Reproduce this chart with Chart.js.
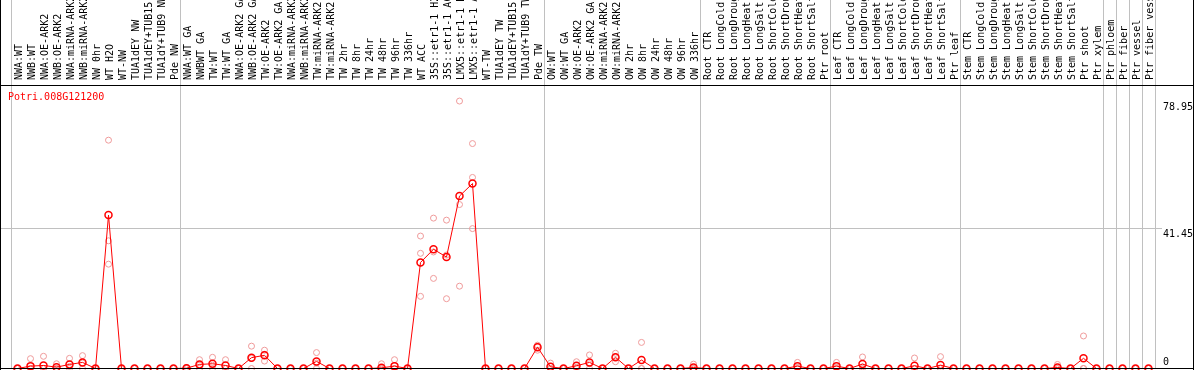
<!DOCTYPE html>
<html>
<head>
<meta charset="utf-8">
<script src="https://cdn.jsdelivr.net/npm/chart.js@4.4.0/dist/chart.umd.min.js"></script>
<style>
  html, body { margin: 0; padding: 0; background: #fff; }
  #wrap { position: relative; width: 1194px; height: 370px; }
  #chart { display: block; }
  #title { position: absolute; left: 8px; top: 92px; font: 10px 'DejaVu Sans Mono', monospace; line-height: 10px; color: #f00; }
</style>
</head>
<body>
<div id="wrap">
  <canvas id="chart" width="1194" height="370"></canvas>
  <div id="title">Potri.008G121200</div>
</div>
<script>
// sample groups (each group is separated by a vertical grey line)
const groupSizes = [13, 28, 12, 10, 10, 11, 1, 1, 1, 1];

const labels = [
  'NWA:WT', 'NWB:WT', 'NWA:OE-ARK2', 'NWB:OE-ARK2', 'NWA:miRNA-ARK2', 'NWB:miRNA-ARK2', 'NW 0hr', 'WT H2O', 'WT-NW',
  'TUA1dEY NW', 'TUA1dEY+TUB15 NW', 'TUA1dY+TUB9 NW', 'Pde NW',
  'NWA:WT GA', 'NWBWT GA', 'TW:WT', 'TW:WT GA', 'NWA:OE-ARK2 GA', 'NWB:OE-ARK2 GA', 'TW:OE-ARK2', 'TW:OE-ARK2 GA',
  'NWA:miRNA-ARK2 GA', 'NWB:miRNA-ARK2 GA', 'TW:miRNA-ARK2', 'TW:miRNA-ARK2', 'TW 2hr', 'TW 8hr', 'TW 24hr', 'TW 48hr',
  'TW 96hr', 'TW 336hr', 'WT ACC', '35S::etr1-1 H2O', '35S::etr1-1 ACC', 'LMX5::etr1-1 H2O', 'LMX5::etr1-1 ACC',
  'WT-TW', 'TUA1dEY TW', 'TUA1dEY+TUB15 TW', 'TUA1dY+TUB9 TW', 'Pde TW',
  'OW:WT', 'OW:WT GA', 'OW:OE-ARK2', 'OW:OE-ARK2 GA', 'OW:miRNA-ARK2', 'OW:miRNA-ARK2', 'OW 2hr', 'OW 8hr', 'OW 24hr',
  'OW 48hr', 'OW 96hr', 'OW 336hr',
  'Root CTR', 'Root LongCold', 'Root LongDrought', 'Root LongHeat', 'Root LongSalt', 'Root ShortCold', 'Root ShortDrought',
  'Root ShortHeat', 'Root ShortSalt', 'Ptr root',
  'Leaf CTR', 'Leaf LongCold', 'Leaf LongDrought', 'Leaf LongHeat', 'Leaf LongSalt', 'Leaf ShortCold', 'Leaf ShortDrought',
  'Leaf ShortHeat', 'Leaf ShortSalt', 'Ptr leaf',
  'Stem CTR', 'Stem LongCold', 'Stem LongDrought', 'Stem LongHeat', 'Stem LongSalt', 'Stem ShortCold', 'Stem ShortDrought',
  'Stem ShortHeat', 'Stem ShortSalt', 'Ptr shoot', 'Ptr xylem',
  'Ptr phloem', 'Ptr fiber', 'Ptr vessel', 'Ptr fiber vessel'
];

// mean expression per sample (red line)
const meanValues = [
  0, 0.7, 0.9, 0.4, 1.2, 1.8, 0, 45.3, 0, 0, 0, 0, 0,
  0.1, 1.2, 1.4, 0.9, 0, 3.2, 3.9, 0, 0, 0, 2.1, 0, 0, 0, 0, 0.2, 0.7, 0, 31.3, 35.2, 32.9, 50.9, 54.6, 0, 0, 0, 0, 6.3,
  0.5, 0, 0.8, 1.8, 0, 3.3, 0, 2.5, 0, 0, 0, 0.3,
  0, 0, 0, 0, 0, 0, 0, 0.7, 0, 0,
  0.7, 0, 1.3, 0, 0, 0, 0.8, 0, 1.0, 0,
  0, 0, 0, 0, 0, 0, 0, 0.3, 0, 3.0, 0,
  0, 0, 0, 0
];

// biological replicates (pink circles)
const rep1 = [
  0, 2.9, 3.6, 1.4, 3.0, 3.8, 0, 67.4, 0, 0, 0, 0, 0,
  0.3, 2.6, 3.3, 2.6, 0, 6.6, 5.4, 0, 0, 0, 4.7, 0, 0, 0, 0, 1.4, 2.6, 0, 39.1, 44.4, 43.8, 78.95, 66.4, 0, 0, 0, 0, 6.9,
  1.6, 0, 2.0, 4.0, 0, 4.5, 0, 7.7, 0, 0, 0, 1.3,
  0, 0, 0, 0, 0, 0, 0, 1.8, 0, 0,
  1.8, 0, 3.4, 0, 0, 0, 3.1, 0, 3.5, 0,
  0, 0, 0, 0, 0, 0, 0, 1.2, 0, 9.6, 0,
  0, 0, 0, 0
];
const rep2 = [
  0, 0, 0, 0, 0.6, 1.6, 0, 37.7, 0, 0, 0, 0, 0,
  0, 1.0, 1.0, 0, 0, 3.0, 4.2, 0, 0, 0, 1.6, 0, 0, 0, 0, 0, 0, 0, 34.0, 34.4, 33.5, 48.4, 56.4, 0, 0, 0, 0, 6.6,
  0, 0, 0.4, 1.4, 0, 3.4, 0, 0, 0, 0, 0, 0,
  0, 0, 0, 0, 0, 0, 0, 0.3, 0, 0,
  0.3, 0, 0.5, 0, 0, 0, 0, 0, 0, 0,
  0, 0, 0, 0, 0, 0, 0, 0, 0, 0, 0,
  0, 0, 0, 0
];
const rep3 = [
  0, 0, 0, 0, 0, 0, 0, 30.8, 0, 0, 0, 0, 0,
  0, 0, 0, 0, 0, 0, 2.2, 0, 0, 0, 0, 0, 0, 0, 0, 0, 0, 0, 21.3, 26.6, 20.6, 24.3, 41.3, 0, 0, 0, 0, 5.4,
  0, 0, 0, 0, 0, 2.0, 0, 0, 0, 0, 0, 0,
  0, 0, 0, 0, 0, 0, 0, 0, 0, 0,
  0, 0, 0, 0, 0, 0, 0, 0, 0, 0,
  0, 0, 0, 0, 0, 0, 0, 0, 0, 0, 0,
  0, 0, 0, 0
];

const yTicks = [0, 41.45, 78.95];
const yMax = 83.69;

const font = { family: "'DejaVu Sans Mono', monospace", size: 10 };
const GRID = '#c0c0c0';
const NONE = 'rgba(0,0,0,0)';

// category indexes where a group starts (plus the right edge)
const bounds = new Set([0]);
groupSizes.reduce((acc, n) => { bounds.add(acc + n); return acc + n; }, 0);

function repSet(data) {
  return {
    data: data,
    showLine: false,
    pointRadius: 3,
    pointBorderWidth: 1,
    pointBorderColor: '#ef9a9a',
    pointBackgroundColor: NONE,
    clip: false
  };
}

// black frame around the plot, drawn over the data like the original
const framePlugin = {
  id: 'frame',
  afterDatasetsDraw(chart) {
    const c = chart.ctx;
    const area = chart.chartArea;
    c.save();
    c.fillStyle = '#000';
    c.fillRect(0, Math.round(area.top), chart.width, 1);
    c.fillRect(0, Math.floor(area.bottom), chart.width, 1);
    c.fillRect(0, 0, 1, chart.height);
    c.fillRect(chart.width - 1, 0, 1, chart.height);
    c.restore();
  }
};

new Chart(document.getElementById('chart'), {
  type: 'line',
  data: {
    labels: labels,
    datasets: [
      {
        data: meanValues,
        borderColor: '#ff0000',
        borderWidth: 1,
        tension: 0,
        pointRadius: 3.5,
        pointBorderWidth: 1.5,
        pointBorderColor: '#ff0000',
        pointBackgroundColor: NONE,
        clip: false
      },
      repSet(rep1),
      repSet(rep2),
      repSet(rep3)
    ]
  },
  options: {
    responsive: false,
    animation: false,
    devicePixelRatio: 1,
    events: [],
    layout: { autoPadding: false, padding: { left: 1, right: 1, top: 0, bottom: 1.5 } },
    plugins: { legend: { display: false }, tooltip: { enabled: false } },
    scales: {
      x: {
        position: 'top',
        offset: true,
        afterFit: s => { s.height = 85; s.paddingLeft = 0; s.paddingRight = 0; },
        ticks: { autoSkip: false, minRotation: 90, maxRotation: 90, font: font, color: '#000', padding: -80, labelOffset: 14 },
        grid: {
          offset: true,
          tickLength: 85,
          color: c => (c.index === undefined || bounds.has(c.index)) ? GRID : NONE
        },
        border: { display: false }
      },
      y: {
        position: 'right',
        min: 0,
        max: yMax,
        afterBuildTicks: s => { s.ticks = yTicks.map(v => ({ value: v })); },
        afterFit: s => { s.width = 38; s.paddingTop = 0; s.paddingBottom = 0; },
        ticks: {
          font: font,
          color: '#000',
          padding: 1,
          callback: v => v === 0 ? ['0', ''] : ['', String(v)]
        },
        grid: { tickLength: 7, color: c => (c.tick && c.tick.value === 41.45) ? GRID : NONE },
        border: { display: false }
      },
      yl: {
        position: 'left',
        min: 0,
        max: yMax,
        afterBuildTicks: s => { s.ticks = [{ value: 41.45 }]; },
        afterFit: s => { s.width = 10; s.paddingTop = 0; s.paddingBottom = 0; },
        ticks: { display: false },
        grid: { drawOnChartArea: false, tickLength: 10, color: GRID },
        border: { display: false }
      }
    }
  },
  plugins: [framePlugin]
});
</script>
</body>
</html>
